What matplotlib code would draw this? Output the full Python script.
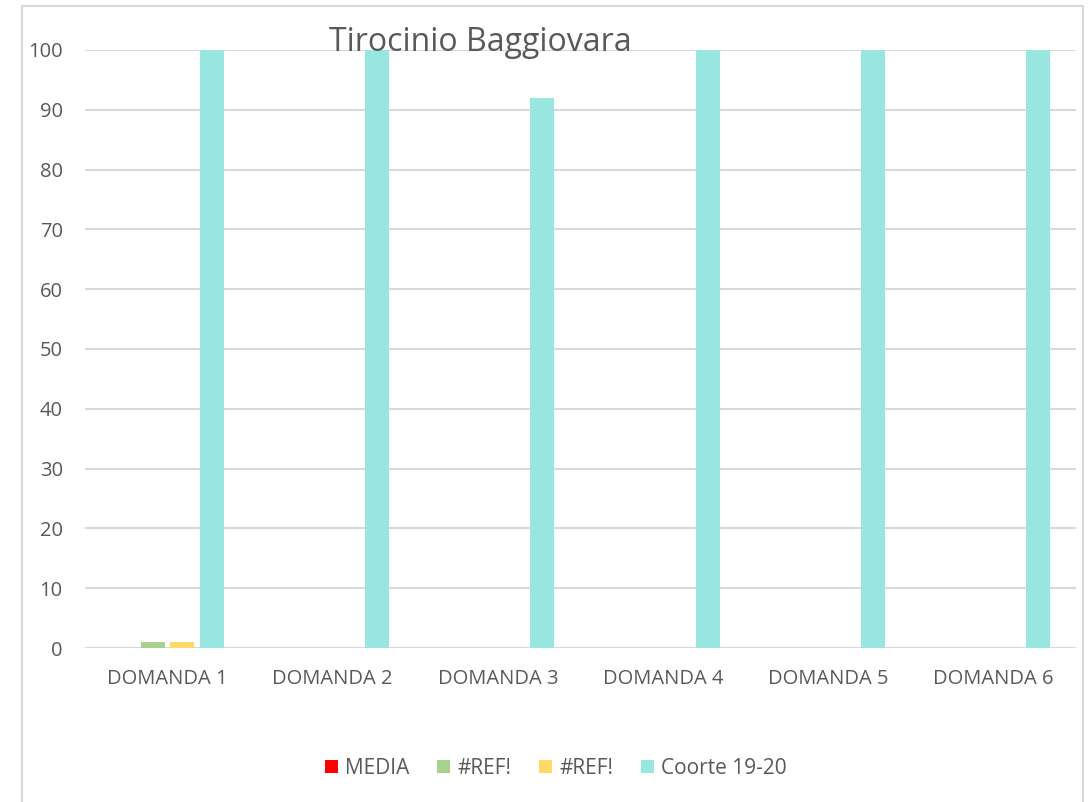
import numpy as np
import matplotlib
matplotlib.use("Agg")
import matplotlib.pyplot as plt
from matplotlib.patches import Rectangle

# ─── DATA ───────────────────────────────────────────────────────────────────
categories = ["DOMANDA 1", "DOMANDA 2", "DOMANDA 3", "DOMANDA 4", "DOMANDA 5", "DOMANDA 6"]
media = [0, 0, 0, 0, 0, 0]
ref_a = [1, 0, 0, 0, 0, 0]
ref_b = [1, 0, 0, 0, 0, 0]
coorte = [100, 100, 92, 100, 100, 100]

series = [("MEDIA", media, "#FF0000"),
          ("#REF!", ref_a, "#A9D18E"),
          ("#REF!", ref_b, "#FFD966"),
          ("Coorte 19-20", coorte, "#99E6E0")]

plt.rcParams['font.family'] = ['Open Sans', 'DejaVu Sans']
text_col = '#595959'
grid_col = '#D9D9D9'

fig = plt.figure(figsize=(10.92, 8.02), dpi=100)
ax = fig.add_axes([0.0778, 0.192, 0.9075, 0.7457])

x = np.arange(len(categories))
bw = 0.145
step = 0.18
for i, (name, vals, col) in enumerate(series):
    ax.bar(x + (i - 1.5) * step, vals, width=bw, color=col, label=name, zorder=2)

ax.set_xlim(-0.5, len(categories) - 0.5)
ax.set_ylim(0, 100)
ax.set_yticks(np.arange(0, 101, 10))
ax.set_xticks(x)
ax.set_xticklabels(categories)
ax.grid(axis='y', color=grid_col, linewidth=1.5, zorder=0)
for s in ax.spines.values():
    s.set_visible(False)
ax.tick_params(axis='both', length=0, colors=text_col, labelsize=14.5)
ax.tick_params(axis='y', pad=16)
ax.tick_params(axis='x', pad=15)

# title sits on top of the bars, like in the original
fig.text(0.44, 0.947, "Tirocinio Baggiovara", ha='center', va='center',
         fontsize=23, color=text_col, zorder=5)

fig.legend(loc='center', bbox_to_anchor=(0.509, 0.042), ncol=4, frameon=False,
           fontsize=15, handlelength=0.65, handleheight=0.65, handletextpad=0.35,
           columnspacing=1.3, labelcolor=text_col)

# chart area border
fig.add_artist(Rectangle((0.0201, -0.1), 0.9717, 1.0925, transform=fig.transFigure,
                         fill=False, edgecolor=grid_col, linewidth=1.5, clip_on=False))

plt.savefig("out.png", dpi=100)
